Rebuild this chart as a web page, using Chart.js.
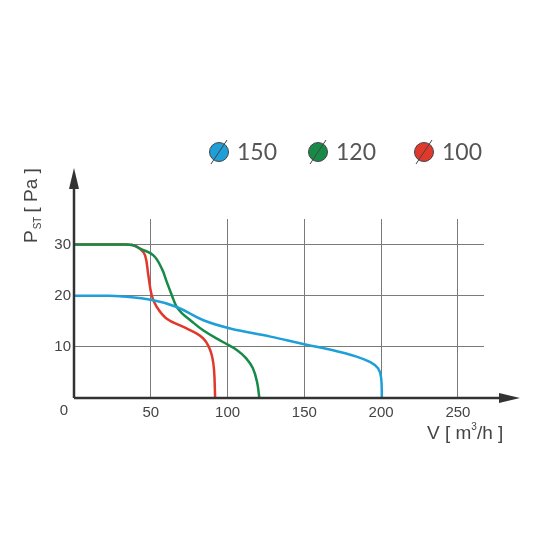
<!DOCTYPE html>
<html>
<head>
<meta charset="utf-8">
<script src="https://cdn.jsdelivr.net/npm/chart.js@4/dist/chart.umd.min.js"></script>
<style>
  body { margin: 0; background: #fff; }
</style>
</head>
<body>
<canvas id="fanChart" width="560" height="560"></canvas>
<script>
// data (V in m3/h, P in Pa)
const seriesNames = ["150", "120", "100"];
const seriesColors = ["#1f9fd8", "#178a48", "#e0392b"];

const blueV = [0, 20, 30, 51.7, 66.9, 84.3, 101.7, 128, 150, 168, 184, 193, 198, 200, 200.5];
const blueP = [20, 20, 19.9, 19.1, 17.8, 15.2, 13.6, 12.0, 10.5, 9.4, 8.1, 7.0, 5.8, 4, 0];

const greenV = [0, 30, 38, 43, 51.7, 57.2, 60.4, 63.7, 66.9, 70.2, 75, 84.3, 97.3, 106, 112, 116.5, 119.3, 120.7];
const greenP = [30, 30, 29.9, 29.2, 27.9, 25.3, 22.7, 20.1, 17.8, 16.6, 15.4, 13.2, 10.9, 9.4, 7.8, 5.8, 3, 0];

const redV = [0, 30, 38, 43, 46.3, 48.4, 50.6, 53.9, 60.4, 71.2, 80, 84.3, 87.5, 89.8, 91.2, 91.9];
const redP = [30, 30, 29.9, 29.2, 27.9, 24, 20.1, 17.8, 15.5, 13.9, 12.6, 11.6, 10.2, 8.3, 5.5, 0];

const xTicks = [0, 50, 100, 150, 200, 250];
const yTicks = [0, 10, 20, 30];

function toPoints(xs, ys) {
    return xs.map((x, i) => ({ x: x, y: ys[i] }));
}

const gridColor = "#7a7a7a";
const axisColor = "#333";
const textColor = "#444";
const sans = "'Liberation Sans', Arial, sans-serif";

// axes with arrows, titles, legend
const extrasPlugin = {
    id: "extras",
    afterDatasetsDraw(chart) {
        const c = chart.ctx;
        const a = chart.chartArea;
        c.save();

        // axis lines
        c.strokeStyle = axisColor;
        c.fillStyle = axisColor;
        c.lineWidth = 2.5;
        c.beginPath();
        c.moveTo(a.left, a.bottom);
        c.lineTo(a.left, 182);
        c.moveTo(a.left, a.bottom);
        c.lineTo(508, a.bottom);
        c.stroke();

        // arrow heads
        c.beginPath();
        c.moveTo(a.left, 168);
        c.lineTo(a.left - 5, 189);
        c.lineTo(a.left + 5, 189);
        c.closePath();
        c.fill();
        c.beginPath();
        c.moveTo(520, a.bottom);
        c.lineTo(499, a.bottom - 5);
        c.lineTo(499, a.bottom + 5);
        c.closePath();
        c.fill();

        // origin label
        c.font = "15px " + sans;
        c.fillStyle = textColor;
        c.textAlign = "center";
        c.textBaseline = "middle";
        c.fillText("0", 64, 411);

        // x title
        c.font = "19px " + sans;
        c.textAlign = "left";
        c.textBaseline = "alphabetic";
        let x = 427;
        const base = 439;
        c.fillText("V [ m", x, base);
        x += c.measureText("V [ m").width;
        c.font = "10px " + sans;
        c.fillText("3", x, base - 9);
        x += c.measureText("3").width;
        c.font = "19px " + sans;
        c.fillText("/h ]", x, base);

        // y title (rotated)
        c.save();
        c.translate(37, 243);
        c.rotate(-Math.PI / 2);
        let t = 0;
        c.font = "19px " + sans;
        c.fillText("P", t, 0);
        t += c.measureText("P").width + 1;
        c.font = "10px " + sans;
        c.fillText("ST", t, 4);
        t += c.measureText("ST").width + 4;
        c.font = "19px " + sans;
        c.fillText("[ Pa ]", t, 0);
        c.restore();

        // legend: slashed circles
        const legendX = [219, 318, 424];
        c.font = "23px Lato, 'Open Sans', sans-serif";
        c.textBaseline = "middle";
        seriesNames.forEach((name, i) => {
            const cx = legendX[i], cy = 152;
            c.beginPath();
            c.arc(cx, cy, 9.5, 0, Math.PI * 2);
            c.fillStyle = seriesColors[i];
            c.fill();
            c.strokeStyle = "#444";
            c.lineWidth = 1;
            c.stroke();
            c.beginPath();
            c.moveTo(cx - 8, cy + 12);
            c.lineTo(cx + 8, cy - 12);
            c.stroke();
            c.fillStyle = "#555";
            c.textAlign = "left";
            c.fillText(name, cx + 18, cy + 1);
        });

        c.restore();
    }
};

const ctx = document.getElementById("fanChart").getContext("2d");
const fanChart = new Chart(ctx, {
    type: "line",
    data: {
        datasets: [
            { label: seriesNames[0], data: toPoints(blueV, blueP), borderColor: seriesColors[0] },
            { label: seriesNames[1], data: toPoints(greenV, greenP), borderColor: seriesColors[1] },
            { label: seriesNames[2], data: toPoints(redV, redP), borderColor: seriesColors[2] }
        ]
    },
    options: {
        responsive: false,
        animation: false,
        layout: { padding: { top: 219, right: 76, left: 0, bottom: 0 } },
        elements: {
            point: { radius: 0 },
            line: { borderWidth: 2.5, tension: 0.4, fill: false }
        },
        plugins: {
            legend: { display: false },
            tooltip: { enabled: false }
        },
        scales: {
            x: {
                type: "linear",
                min: 0,
                max: 267,
                afterFit: s => { s.height = 162; },
                afterBuildTicks: s => { s.ticks = xTicks.map(v => ({ value: v })); },
                border: { display: false },
                grid: {
                    drawTicks: false,
                    color: c => (c.tick && c.tick.value === 0) ? "rgba(0,0,0,0)" : gridColor,
                    lineWidth: 1
                },
                ticks: {
                    padding: 6,
                    color: textColor,
                    font: { size: 15, family: sans },
                    callback: v => v === 0 ? "" : v
                }
            },
            y: {
                min: 0,
                max: 35,
                afterFit: s => { s.width = 74; },
                afterBuildTicks: s => { s.ticks = yTicks.map(v => ({ value: v })); },
                border: { display: false },
                grid: {
                    drawTicks: false,
                    color: c => (c.tick && c.tick.value === 0) ? "rgba(0,0,0,0)" : gridColor,
                    lineWidth: 1
                },
                ticks: {
                    padding: 3,
                    color: textColor,
                    font: { size: 15, family: sans },
                    callback: v => v === 0 ? "" : v
                }
            }
        }
    },
    plugins: [extrasPlugin]
});
</script>
</body>
</html>
